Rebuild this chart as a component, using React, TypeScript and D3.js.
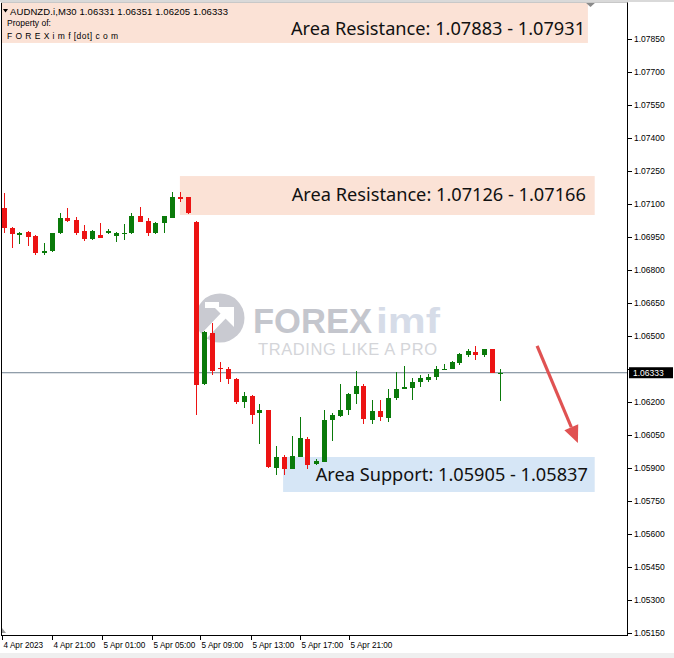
import React from "react";
import * as d3 from "d3";

const W = 674;
const H = 658;

// OHLC values of the AUDNZD M30 bars, oldest first
const opens = [
  1.0708, 1.06992, 1.06959, 1.06971, 1.06954, 1.06878, 1.06886, 1.06967, 1.07038, 1.07027,
  1.06979, 1.06941, 1.06959, 1.06967, 1.06956, 1.06964, 1.06967, 1.07045, 1.07023, 1.06967,
  1.07012, 1.07038, 1.0713, 1.0713, 1.07017, 1.0628, 1.06512, 1.06355, 1.06352, 1.06304,
  1.06198, 1.06226, 1.06148, 1.06163, 1.05902, 1.0595, 1.05897, 1.0595, 1.06034, 1.05917,
  1.05927, 1.06117, 1.06135, 1.06163, 1.06236, 1.06272, 1.06117, 1.0616, 1.06129, 1.06216,
  1.06257, 1.06263, 1.06291, 1.06301, 1.06313, 1.06348, 1.06352, 1.06378, 1.06413, 1.06428,
  1.06413, 1.06439, 1.06331,
];
const highs = [
  1.07149, 1.06997, 1.06974, 1.06977, 1.06959, 1.06921, 1.06969, 1.0706, 1.07083, 1.07042,
  1.07004, 1.06982, 1.07012, 1.06985, 1.06971, 1.07008, 1.07058, 1.07088, 1.07035, 1.07019,
  1.07047, 1.07153, 1.07153, 1.07133, 1.07023, 1.06522, 1.06557, 1.0638, 1.0636, 1.06307,
  1.06246, 1.06231, 1.06189, 1.06163, 1.05999, 1.05961, 1.06044, 1.06132, 1.06041, 1.05943,
  1.06163, 1.0615, 1.06281, 1.06239, 1.06342, 1.06284, 1.06211, 1.06211, 1.06257, 1.06337,
  1.06363, 1.06311, 1.06324, 1.06329, 1.06363, 1.06372, 1.06387, 1.06423, 1.06439, 1.06454,
  1.06443, 1.06443, 1.06351,
];
const lows = [
  1.06967, 1.06901, 1.06917, 1.06909, 1.06868, 1.06868, 1.06883, 1.06962, 1.07019, 1.06959,
  1.06932, 1.06936, 1.06945, 1.06962, 1.06928, 1.06936, 1.06964, 1.07017, 1.06956, 1.06962,
  1.06967, 1.07035, 1.0711, 1.07053, 1.0614, 1.06276, 1.06325, 1.06291, 1.06284, 1.06189,
  1.06173, 1.06102, 1.06011, 1.059, 1.05867, 1.05867, 1.05897, 1.0595, 1.05897, 1.05912,
  1.05927, 1.06023, 1.06132, 1.0614, 1.06193, 1.06102, 1.06102, 1.06114, 1.06108, 1.06211,
  1.06257, 1.06211, 1.06266, 1.06292, 1.06299, 1.06345, 1.06348, 1.06367, 1.06403, 1.0639,
  1.06403, 1.0633, 1.06205,
];
const closes = [
  1.06992, 1.06962, 1.06967, 1.06951, 1.06876, 1.06886, 1.06967, 1.07038, 1.07024, 1.06967,
  1.06941, 1.06977, 1.06947, 1.06979, 1.06967, 1.06967, 1.07045, 1.07019, 1.06967, 1.07015,
  1.07045, 1.07133, 1.07123, 1.07058, 1.06276, 1.06516, 1.0634, 1.06348, 1.06304, 1.06198,
  1.06228, 1.06143, 1.06163, 1.05905, 1.0595, 1.05897, 1.05953, 1.06038, 1.05912, 1.05931,
  1.0612, 1.0614, 1.06163, 1.06236, 1.06272, 1.06125, 1.0616, 1.06131, 1.06216, 1.06257,
  1.06266, 1.0629, 1.06307, 1.06314, 1.06352, 1.06352, 1.06382, 1.06418, 1.06433, 1.06413,
  1.06439, 1.0633, 1.06333,
];

// price axis
const yTicks = [
  1.0515, 1.053, 1.0545, 1.056, 1.0575, 1.059, 1.0605, 1.062, 1.0635, 1.065,
  1.0665, 1.068, 1.0695, 1.071, 1.0725, 1.074, 1.0755, 1.077, 1.0785,
];
const currentPrice = 1.06333;

// time axis (bar index where each label sits)
const xTickLabels = [
  "4 Apr 2023", "4 Apr 21:00", "5 Apr 01:00", "5 Apr 05:00",
  "5 Apr 09:00", "5 Apr 13:00", "5 Apr 17:00", "5 Apr 21:00",
];
const xTickBars = [-0.25, 6.1, 12.25, 18.5, 24.6, 30.9, 37, 43.2];

// drawn zones
const zoneLabels = [
  "Area Resistance: 1.07883 - 1.07931",
  "Area Resistance: 1.07126 - 1.07166",
  "Area Support: 1.05905 - 1.05837",
];
const zoneLabelPrices = [1.079, 1.07146, 1.05871];
const zoneTops = [1.0802, 1.07227, 1.0595];
const zoneBottoms = [1.07832, 1.0705, 1.05791];
const zoneStarts = [-1, 22.05, 34.95];
const zoneEnds = [73.05, 73.9, 73.9];
const zoneLabelEnds = [72.7, 72.8, 73.05];
const zoneFills = ["#fbe2d6", "#fbe2d6", "#d6e6f6"];

// forecast arrow (bar index, price)
const arrowFrom = [66.7, 1.06455];
const arrowTo = [71.8, 1.06014];

const RED = "#ec1313";
const GREEN = "#0a7a0a";
const AXIS_FONT = "'Liberation Sans', Arial, sans-serif";

export default function App() {
  const L = 1, R = 627, T = 2, B = 635;
  const x = d3.scaleLinear().domain([0, 78]).range([3.5, 3.5 + 8 * 78]);
  const y = d3.scaleLinear().domain([1.0515, 1.0785]).range([633, 39]);
  const bodyW = 5;

  const ax1 = x(arrowFrom[0]), ay1 = y(arrowFrom[1]);
  const ax2 = x(arrowTo[0]), ay2 = y(arrowTo[1]);
  const ang = Math.atan2(ay2 - ay1, ax2 - ax1);
  const headL = 17, headW = 7.5;
  const bx = ax2 - headL * Math.cos(ang), by = ay2 - headL * Math.sin(ang);
  const px = -Math.sin(ang), py = Math.cos(ang);
  const head = `M${ax2},${ay2}L${bx + headW * px},${by + headW * py}L${bx - headW * px},${by - headW * py}Z`;

  const cy = y(currentPrice);

  return (
    <div style={{ position: "absolute", left: 0, top: 0 }}>
      <svg width={W} height={H} style={{ display: "block" }}>
        <defs>
          <clipPath id="plotClip">
            <rect x={L} y={T} width={R - L} height={B - T} />
          </clipPath>
        </defs>
        <rect x={0} y={0} width={W} height={H} fill="#ffffff" />
        <rect x={0} y={0} width={W} height={2} fill="#d9d9d9" />
        <rect x={0} y={653} width={W} height={5} fill="#efefef" />

        <g clipPath="url(#plotClip)">
          {/* zones */}
          {zoneLabels.map((lab, i) => (
            <rect
              key={"z" + i}
              x={x(zoneStarts[i])}
              y={y(zoneTops[i])}
              width={x(zoneEnds[i]) - x(zoneStarts[i])}
              height={y(zoneBottoms[i]) - y(zoneTops[i])}
              fill={zoneFills[i]}
            />
          ))}

          {/* watermark */}
          <g>
            <circle cx={220} cy={318} r={24.5} fill="#c9cad1" />
            <path d="M204,336 L226,313" stroke="#ffffff" strokeWidth={7} />
            <path d="M214,307 L234,307 L234,327 Z" fill="#ffffff" />
            <rect x={205} y={302} width={14} height={6} fill="#ffffff" />
            <text x={253} y={333} fontFamily={AXIS_FONT} fontWeight="bold" fontSize={35}
              fill="#c4c6cd" textLength={119} lengthAdjust="spacingAndGlyphs">FOREX</text>
            <text x={376} y={333} fontFamily={AXIS_FONT} fontWeight="bold" fontSize={35}
              fill="#d6dce8" textLength={64} lengthAdjust="spacingAndGlyphs">imf</text>
            <text x={258} y={355} fontFamily={AXIS_FONT} fontSize={16.5}
              fill="#d4d5d9" textLength={179} lengthAdjust="spacing">TRADING LIKE A PRO</text>
          </g>

          {/* current price line */}
          <line x1={L} x2={R} y1={cy} y2={cy} stroke="#708090" strokeWidth={1} />

          {/* candles */}
          <g shapeRendering="crispEdges">
            {opens.map((o, i) => {
              const c = closes[i];
              const up = c >= o;
              const col = up ? GREEN : RED;
              const xc = Math.round(x(i));
              const yTop = y(Math.max(o, c));
              const h = Math.max(1, Math.abs(y(o) - y(c)));
              return (
                <g key={"c" + i}>
                  <line x1={xc + 0.5} x2={xc + 0.5} y1={y(highs[i])} y2={y(lows[i])} stroke={col} strokeWidth={1} />
                  <rect x={xc + 0.5 - bodyW / 2} y={yTop} width={bodyW} height={h} fill={col} />
                </g>
              );
            })}
          </g>

          {/* forecast arrow */}
          <line x1={ax1} y1={ay1} x2={bx} y2={by} stroke="#e05252" strokeWidth={3.2} />
          <path d={head} fill="#e05252" />

          {/* zone labels */}
          {zoneLabels.map((lab, i) => (
            <text
              key={"zl" + i}
              x={x(zoneLabelEnds[i])}
              y={y(zoneLabelPrices[i])}
              textAnchor="end"
              dominantBaseline="central"
              fontFamily="'Noto Sans', 'Open Sans', sans-serif"
              fontSize={18.2}
              fill="#111111"
            >
              {lab}
            </text>
          ))}

          {/* header */}
          <path d="M3,9 L8,9 L5.5,12.5 Z" fill="#000" />
          <text x={10} y={14.5} fontFamily={AXIS_FONT} fontSize={9.5} fill="#000"
            textLength={218} lengthAdjust="spacing">AUDNZD.i,M30  1.06331 1.06351 1.06205 1.06333</text>
          <text x={7} y={26} fontFamily={AXIS_FONT} fontSize={8.5} fill="#000">Property of:</text>
          <text x={7} y={39} fontFamily={AXIS_FONT} fontSize={8.5} fill="#000"
            textLength={111} lengthAdjust="spacing">F O R E X i m f [dot] c o m</text>

          <path d="M2,628 L6,633 L2,633 Z" fill="#9a9a9a" />
        </g>

        {/* top marker */}
        <path d="M585,2 L596,2 L590.5,7 Z" fill="#8a8a8a" />

        {/* frame */}
        <line x1={L + 0.5} x2={L + 0.5} y1={T} y2={B} stroke="#000" />
        <line x1={L} x2={R + 0.5} y1={B + 0.5} y2={B + 0.5} stroke="#000" />
        <line x1={R + 0.5} x2={R + 0.5} y1={T} y2={B + 1} stroke="#000" />
        <line x1={L} x2={R + 0.5} y1={T + 0.5} y2={T + 0.5} stroke="#c8c8c8" />

        {/* price axis */}
        {yTicks.map((v) => (
          <g key={"y" + v}>
            <line x1={R} x2={R + 5} y1={Math.round(y(v)) + 0.5} y2={Math.round(y(v)) + 0.5} stroke="#000" />
            {v === 1.0635 ? null : (
              <text x={R + 7} y={y(v)} dominantBaseline="central" fontFamily={AXIS_FONT} fontSize={8.5} fill="#000">
                {v.toFixed(5)}
              </text>
            )}
          </g>
        ))}

        {/* current price tag (covers the 1.06350 label) */}
        <rect x={R + 2} y={cy - 5.5} width={44} height={11} fill="#000" />
        <text x={R + 6} y={cy} dominantBaseline="central" fontFamily={AXIS_FONT} fontSize={8.5} fill="#fff">
          {currentPrice.toFixed(5)}
        </text>

        {/* time axis */}
        {xTickLabels.map((lab, i) => {
          const xt = Math.round(x(xTickBars[i])) + 0.5;
          return (
            <g key={"x" + i}>
              <line x1={xt} x2={xt} y1={B} y2={B + 5} stroke="#000" />
              <text x={xt + 1} y={645} dominantBaseline="central" fontFamily={AXIS_FONT} fontSize={8.2} fill="#000">
                {lab}
              </text>
            </g>
          );
        })}
      </svg>
    </div>
  );
}
